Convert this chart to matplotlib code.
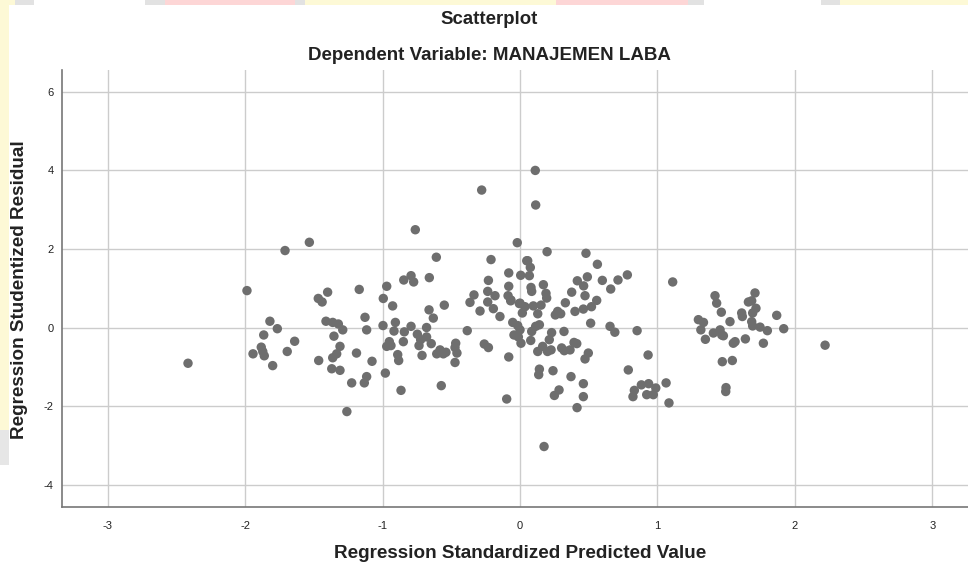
import matplotlib
matplotlib.use("Agg")
import matplotlib.pyplot as plt
from matplotlib.patches import Rectangle

# Regression Standardized Predicted Value
x_pred = [
    -1.533, -1.71, -1.987, -1.40, -1.17, -1.468, -1.44, -1.128, -1.82, -1.766,
    -1.412, -1.363, -1.322, -1.29, -1.116, -1.865, -1.354, -1.64, -1.883, -1.872,
    -1.31, -1.943, -1.861, -1.694, -1.334, -1.363, -1.19, -2.416, -1.80, -1.465,
    -1.37, -1.31, -1.225, -1.133, -1.116, -1.26,
    -0.762, -0.02, -0.609, -0.211, 0.049, -0.846, -0.793, -0.774, -0.66, -0.97,
    -0.995, -0.927, -0.082, 0.005, -0.23, -0.082, -0.235, -0.182, -0.087, -0.335,
    -0.364, -0.291, -0.235, -0.194, -0.146, -0.066, 0.0, -0.551, -0.662, -0.631,
    -0.997, -0.907, -0.917, -0.793, -0.842, -0.68, -0.747, -0.68, -0.723, -0.951,
    -0.939, -0.97, -0.849, -0.735, -0.646, -0.582, -0.606, -0.558, -0.539, -0.468,
    -0.473, -0.459, -0.473, -0.713, -0.89, -0.883, -0.384, -0.26, -0.23, -0.082,
    -1.077, -0.98, -0.866, -0.573, -0.097,
    0.111, -0.279, 0.114, 0.197, 0.48, 0.056, 0.075, 0.563, 0.068, 0.49,
    0.417, 0.463, 0.599, 0.713, 0.66, 0.08, 0.17, 0.189, 0.194, 0.085,
    -0.068, -0.005, 0.036, 0.097, 0.153, 0.129, 0.017, 0.33, 0.376, 0.473,
    0.257, 0.296, 0.274, 0.40, 0.461, 0.52, 0.558, 0.514, 0.655, 0.69,
    -0.053, -0.017, 0.0, -0.044, -0.012, 0.007, 0.078, 0.085, 0.114, 0.141,
    0.23, 0.32, 0.213, 0.129, 0.165, 0.2, 0.226, 0.303, 0.322, 0.364,
    0.393, 0.413, 0.497, 0.473, 0.141, 0.136, 0.24, 0.371, 0.461, 0.284,
    0.25, 0.461, 0.415, 0.175,
    0.781, 1.111, 0.852, 0.932, 0.788, 0.883, 0.936, 0.832, 0.822, 0.922,
    0.97, 0.988, 1.063, 1.084, 1.298, 1.335, 1.316, 1.349, 1.407, 1.419,
    1.431, 1.465, 1.71, 1.662, 1.686, 1.717, 1.693, 1.613, 1.618, 1.686,
    1.693, 1.747, 1.80, 1.868, 1.919, 1.528, 1.456, 1.468, 1.48, 1.552,
    1.565, 1.64, 1.771, 1.472, 1.545, 1.499, 1.497, 2.22,
]

# Regression Studentized Residual
y_resid = [
    2.17, 1.96, 0.94, 0.90, 0.97, 0.74, 0.65, 0.26, 0.16, -0.03,
    0.16, 0.13, 0.09, -0.06, -0.06, -0.19, -0.22, -0.35, -0.50, -0.61,
    -0.48, -0.67, -0.72, -0.61, -0.67, -0.77, -0.65, -0.91, -0.97, -0.84,
    -1.05, -1.09, -1.41, -1.41, -1.25, -2.14,
    2.49, 2.16, 1.79, 1.73, 1.70, 1.21, 1.32, 1.16, 1.27, 1.05,
    0.74, 0.55, 1.39, 1.33, 1.20, 1.05, 0.92, 0.81, 0.81, 0.83,
    0.64, 0.42, 0.65, 0.48, 0.28, 0.70, 0.62, 0.57, 0.45, 0.24,
    0.05, 0.13, -0.09, 0.03, -0.11, 0.0, -0.17, -0.24, -0.31, -0.36,
    -0.46, -0.48, -0.36, -0.46, -0.41, -0.57, -0.67, -0.67, -0.63, -0.40,
    -0.51, -0.65, -0.89, -0.71, -0.69, -0.84, -0.08, -0.42, -0.51, -0.75,
    -0.86, -1.16, -1.60, -1.48, -1.82,
    4.0, 3.50, 3.12, 1.93, 1.89, 1.70, 1.53, 1.61, 1.32, 1.29,
    1.19, 1.06, 1.20, 1.21, 0.98, 1.02, 1.09, 0.87, 0.75, 0.92,
    0.68, 0.61, 0.53, 0.55, 0.57, 0.35, 0.37, 0.63, 0.90, 0.81,
    0.32, 0.35, 0.41, 0.41, 0.47, 0.53, 0.69, 0.11, 0.03, -0.12,
    0.13, 0.05, -0.06, -0.19, -0.24, -0.40, -0.33, -0.10, 0.03, 0.07,
    -0.13, -0.10, -0.31, -0.61, -0.48, -0.61, -0.57, -0.52, -0.59, -0.57,
    -0.38, -0.41, -0.65, -0.80, -1.06, -1.20, -1.10, -1.25, -1.43, -1.59,
    -1.73, -1.76, -2.04, -3.03,
    1.34, 1.16, -0.08, -0.70, -1.08, -1.46, -1.43, -1.60, -1.76, -1.71,
    -1.71, -1.54, -1.41, -1.92, 0.20, 0.13, -0.06, -0.30, -0.14, 0.81,
    0.62, 0.39, 0.88, 0.65, 0.68, 0.49, 0.37, 0.37, 0.28, 0.15,
    0.04, 0.01, -0.08, 0.31, -0.03, 0.15, -0.06, -0.19, -0.21, -0.40,
    -0.36, -0.29, -0.40, -0.87, -0.84, -1.53, -1.63, -0.45,
]

x_ticks = [-3, -2, -1, 0, 1, 2, 3]
y_ticks = [-4, -2, 0, 2, 4, 6]

plt.rcParams['font.family'] = ['Liberation Sans', 'DejaVu Sans']

W, H = 968, 568
fig = plt.figure(figsize=(W / 100, H / 100), dpi=100)
fig.patch.set_facecolor('white')

# screenshot border strips (decoration seen in the reference)
def strip(x0, x1, y0, y1, color):
    fig.patches.append(Rectangle((x0 / W, 1 - y1 / H), (x1 - x0) / W, (y1 - y0) / H,
                                 transform=fig.transFigure, facecolor=color,
                                 edgecolor='none', zorder=0))

strip(0, 9, 0, 430, '#fdf9d6')
strip(0, 9, 430, 465, '#e6e6e6')
strip(0, 15, 0, 5, '#fdf9d6')
strip(15, 34, 0, 5, '#e2e2e2')
strip(145, 165, 0, 5, '#e2e2e2')
strip(165, 295, 0, 5, '#fdd6d6')
strip(295, 305, 0, 5, '#e2e2e2')
strip(305, 556, 0, 5, '#fdf9d6')
strip(556, 688, 0, 5, '#fdd6d6')
strip(688, 704, 0, 5, '#e2e2e2')
strip(821, 840, 0, 5, '#e2e2e2')
strip(840, 968, 0, 5, '#fdf9d6')

ax = fig.add_axes([62 / W, 1 - 507 / H, (W - 62) / W, (507 - 70) / H])

ax.scatter(x_pred, y_resid, s=46, color='#6e6e6e', edgecolors='none', zorder=3)

ax.set_xlim(-3.333, 3.26)
ax.set_ylim(-4.57, 6.557)
ax.set_xticks(x_ticks)
ax.set_yticks(y_ticks)
ax.set_xticklabels([str(v) for v in x_ticks])
ax.set_yticklabels([str(v) for v in y_ticks])
ax.grid(True, color='#cccccc', linewidth=1.0, zorder=0)
ax.set_axisbelow(True)
for side in ['top', 'right']:
    ax.spines[side].set_visible(False)
for side in ['left', 'bottom']:
    ax.spines[side].set_color('#777777')
    ax.spines[side].set_linewidth(1.2)
ax.tick_params(axis='both', length=0, labelsize=8, labelcolor='#222222')
ax.tick_params(axis='x', pad=10)
ax.tick_params(axis='y', pad=6)

fig.text(489 / W, 1 - 20 / H, 'Scatterplot', ha='center', va='center',
         fontsize=13.4, fontweight='bold', color='#222222')
fig.text(489 / W, 1 - 56 / H, 'Dependent Variable: MANAJEMEN LABA', ha='center',
         va='center', fontsize=13.5, fontweight='bold', color='#222222')
fig.text(520 / W, 1 - 554 / H, 'Regression Standardized Predicted Value',
         ha='center', va='center', fontsize=13.6, fontweight='bold', color='#222222')
fig.text(20 / W, 1 - 290 / H, 'Regression Studentized Residual', ha='center',
         va='center', rotation=90, fontsize=13.6, fontweight='bold', color='#222222')

fig.savefig('out.png', dpi=100, facecolor='white')
